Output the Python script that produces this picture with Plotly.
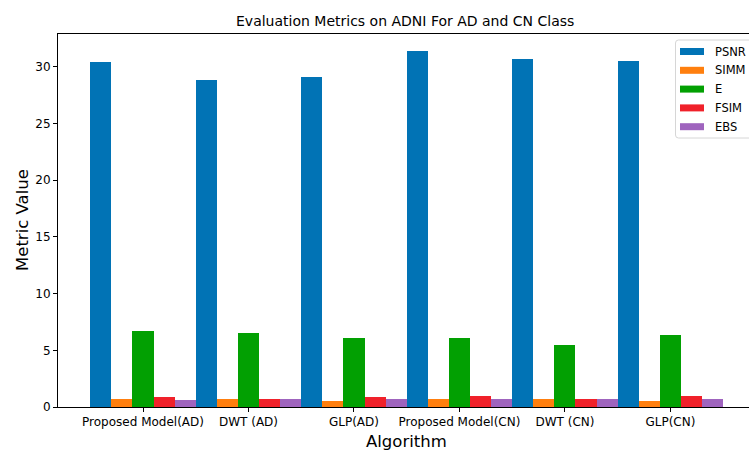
import plotly.graph_objects as go

algorithms = ["Proposed Model(AD)", "DWT (AD)", "GLP(AD)", "Proposed Model(CN)", "DWT (CN)", "GLP(CN)"]
metrics = ["PSNR", "SIMM", "E", "FSIM", "EBS"]
psnr = [30.42, 28.82, 29.10, 31.36, 30.66, 30.48]
simm = [0.68, 0.68, 0.56, 0.74, 0.68, 0.56]
e_vals = [6.70, 6.50, 6.06, 6.06, 5.47, 6.38]
fsim = [0.92, 0.74, 0.92, 0.95, 0.74, 0.95]
ebs = [0.60, 0.68, 0.68, 0.68, 0.68, 0.74]
series = [psnr, simm, e_vals, fsim, ebs]
colors = ["#0173b5", "#ff7f0e", "#02a002", "#f0212a", "#9f64be"]

FONT = "DejaVu Sans"
W, H = 749, 451
# plot area in page pixels: x 58..749, y 34..407
L, R, T, B = 58, 0, 34, 451 - 407
pw, ph = W - L - R, H - T - B

def px_x(px):
    return (px - L) / pw

def px_y(py):
    return (H - B - py) / ph

fig = go.Figure()
xs = list(range(len(algorithms)))
for name, vals, c in zip(metrics, series, colors):
    fig.add_trace(go.Bar(x=xs, y=vals, name=name, marker=dict(color=c, line=dict(width=0)),
                         showlegend=False))

fig.update_layout(
    width=W, height=H,
    margin=dict(l=L, r=R, t=T, b=B),
    paper_bgcolor="white", plot_bgcolor="white",
    barmode="group", bargap=0, bargroupgap=0,
    font=dict(family=FONT, color="black", size=12),
    xaxis=dict(range=[-0.806, 5.745], tickvals=xs, ticktext=algorithms,
               showgrid=False, zeroline=False, showline=True, linecolor="black", linewidth=1,
               mirror=True, ticks="outside", ticklen=4, tickcolor="black",
               tickfont=dict(family=FONT, size=12)),
    yaxis=dict(range=[0, 32.9], tickvals=[0, 5, 10, 15, 20, 25, 30],
               showgrid=False, zeroline=False, showline=True, linecolor="black", linewidth=1,
               ticks="outside", ticklen=4, tickcolor="black",
               tickfont=dict(family=FONT, size=12)),
)

annotations = [
    dict(text="Evaluation Metrics on ADNI For AD and CN Class", x=px_x(405), y=px_y(21),
         xref="paper", yref="paper", showarrow=False, font=dict(family=FONT, size=14),
         xanchor="center", yanchor="middle"),
    dict(text="Algorithm", x=px_x(406), y=px_y(441), xref="paper", yref="paper",
         showarrow=False, font=dict(family=FONT, size=16.5), xanchor="center", yanchor="middle"),
    dict(text="Metric Value", x=px_x(22), y=px_y(220), xref="paper", yref="paper",
         showarrow=False, font=dict(family=FONT, size=16.5), textangle=-90,
         xanchor="center", yanchor="middle"),
]

shapes = []
# legend frame (extends past the right edge, as in the reference)
bx0, by0, bx1, by1, r = 675.5, 40, 760, 138, 3
path = (f"M {px_x(bx0 + r)},{px_y(by0)} L {px_x(bx1)},{px_y(by0)} L {px_x(bx1)},{px_y(by1)} "
        f"L {px_x(bx0 + r)},{px_y(by1)} Q {px_x(bx0)},{px_y(by1)} {px_x(bx0)},{px_y(by1 - r)} "
        f"L {px_x(bx0)},{px_y(by0 + r)} Q {px_x(bx0)},{px_y(by0)} {px_x(bx0 + r)},{px_y(by0)} Z")
shapes.append(dict(type="path", path=path, xref="paper", yref="paper",
                   line=dict(color="#d6d6d6", width=1), fillcolor="rgba(255,255,255,0.8)"))
for i, (name, c) in enumerate(zip(metrics, colors)):
    cy = 51.5 + i * 18.8
    shapes.append(dict(type="rect", xref="paper", yref="paper",
                       x0=px_x(680), x1=px_x(704), y0=px_y(cy - 3.5), y1=px_y(cy + 3.5),
                       fillcolor=c, line=dict(width=0)))
    annotations.append(dict(text=name, x=px_x(713), y=px_y(cy), xref="paper", yref="paper",
                            showarrow=False, font=dict(family=FONT, size=11.5),
                            xanchor="left", yanchor="middle"))

fig.update_layout(annotations=annotations, shapes=shapes)
post = ("document.documentElement.style.margin='0';document.documentElement.style.overflow='hidden';"
        "document.body.style.margin='0';document.body.style.padding='0';"
        "document.body.style.overflow='hidden';")
fig.write_html("out.html", post_script=post, config={"displayModeBar": False})
